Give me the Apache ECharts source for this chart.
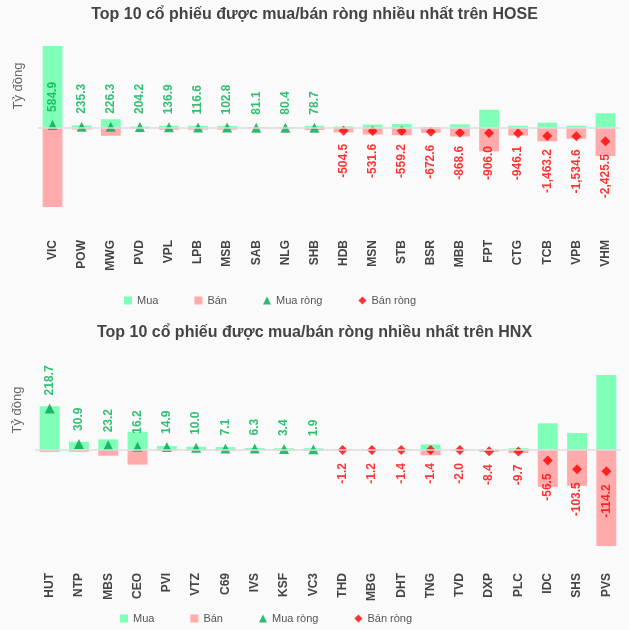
<!DOCTYPE html>
<html>
<head>
<meta charset="utf-8">
<script src="https://cdn.jsdelivr.net/npm/echarts@6/dist/echarts.min.js"></script>
<style>
  html, body { margin: 0; padding: 0; background: #fafafa; }
  #chart { width: 629px; height: 630px; }
</style>
</head>
<body>
<div id="chart"></div>
<script>
// HOSE
let hoseCodes = ['VIC', 'POW', 'MWG', 'PVD', 'VPL', 'LPB', 'MSB', 'SAB', 'NLG', 'SHB',
  'HDB', 'MSN', 'STB', 'BSR', 'MBB', 'FPT', 'CTG', 'TCB', 'VPB', 'VHM']
let hoseBuy = [15200, 500, 1650, 280, 450, 420, 400, 150, 140, 430,
  300, 650, 750, 200, 700, 3400, 450, 1000, 450, 2750]
let hoseSell = [14615.1, 264.7, 1423.7, 75.8, 313.1, 303.4, 297.2, 68.9, 59.6, 351.3,
  804.5, 1181.6, 1309.2, 872.6, 1568.6, 4306.0, 1396.1, 2463.2, 1984.6, 5175.5]
let hoseNet = [584.9, 235.3, 226.3, 204.2, 136.9, 116.6, 102.8, 81.1, 80.4, 78.7,
  -504.5, -531.6, -559.2, -672.6, -868.6, -906.0, -946.1, -1463.2, -1534.6, -2425.5]

// HNX
let hnxCodes = ['HUT', 'NTP', 'MBS', 'CEO', 'PVI', 'VTZ', 'C69', 'IVS', 'KSF', 'VC3',
  'THD', 'MBG', 'DHT', 'TNG', 'TVD', 'DXP', 'PLC', 'IDC', 'SHS', 'PVS']
let hnxBuy = [230, 42, 55, 95, 19.5, 16, 14, 9, 8, 8,
  2, 2, 2, 28, 2, 3, 8, 140, 88, 396]
let hnxSell = [11.3, 11.1, 31.8, 78.8, 4.6, 6.0, 6.9, 2.7, 4.6, 6.1,
  3.2, 3.2, 3.4, 29.4, 4.0, 11.4, 17.7, 196.5, 191.5, 510.2]
let hnxNet = [218.7, 30.9, 23.2, 16.2, 14.9, 10.0, 7.1, 6.3, 3.4, 1.9,
  -1.2, -1.2, -1.4, -1.4, -2.0, -8.4, -9.7, -56.5, -103.5, -114.2]

const BUY = '#80ffb9'
const SELL = '#ffabab'
const UP = '#00a651'
const DOWN = '#ff0000'

function fmt(v) {
  let s = Math.abs(v).toFixed(1)
  let parts = s.split('.')
  parts[0] = parts[0].replace(/\B(?=(\d{3})+(?!\d))/g, ',')
  return (v < 0 ? '-' : '') + parts.join('.')
}

function makeSeries(idx, buy, sell, net) {
  return [
    {
      name: 'Mua', type: 'bar', stack: 'g' + idx,
      xAxisIndex: idx, yAxisIndex: idx,
      barWidth: '68%',
      itemStyle: { color: BUY },
      data: buy,
      markLine: {
        silent: true, symbol: 'none', label: { show: false },
        lineStyle: { color: '#dddddd', type: 'solid', width: 1.5 },
        data: [{ yAxis: 0 }]
      }
    },
    {
      name: 'Bán', type: 'bar', stack: 'g' + idx,
      xAxisIndex: idx, yAxisIndex: idx,
      barWidth: '68%',
      itemStyle: { color: SELL },
      data: sell.map(v => -v)
    },
    {
      name: 'Mua ròng', type: 'scatter', symbol: 'triangle', symbolSize: 10,
      xAxisIndex: idx, yAxisIndex: idx,
      itemStyle: { color: UP },
      label: {
        show: true, position: 'top', rotate: 90, align: 'left', verticalAlign: 'middle',
        distance: 8, color: '#00b050', fontWeight: 'bold', fontSize: 12,
        fontFamily: 'Liberation Sans, Arial',
        formatter: p => fmt(p.value)
      },
      data: net.map(v => v >= 0 ? v : '-')
    },
    {
      name: 'Bán ròng', type: 'scatter', symbol: 'diamond', symbolSize: 10,
      xAxisIndex: idx, yAxisIndex: idx,
      itemStyle: { color: DOWN },
      label: {
        show: true, position: 'bottom', rotate: 90, align: 'right', verticalAlign: 'middle',
        distance: 8, color: DOWN, fontWeight: 'bold', fontSize: 12,
        fontFamily: 'Liberation Sans, Arial',
        formatter: p => fmt(p.value)
      },
      data: net.map(v => v < 0 ? v : '-')
    }
  ]
}

function makeXAxis(idx, codes, margin) {
  return {
    type: 'category', gridIndex: idx, data: codes,
    axisLine: { show: false }, axisTick: { show: false },
    axisLabel: {
      rotate: 90, margin: margin, color: '#444', fontWeight: 'bold', fontSize: 12,
      fontFamily: 'Liberation Sans, Arial', interval: 0
    }
  }
}

function makeYAxis(idx) {
  return {
    type: 'value', gridIndex: idx, show: false,
    min: 'dataMin', max: 'dataMax', splitLine: { show: false }
  }
}

let legendData = [
  { name: 'Mua', icon: 'rect' },
  { name: 'Bán', icon: 'rect' },
  { name: 'Mua ròng', icon: 'triangle' },
  { name: 'Bán ròng', icon: 'diamond' }
]
let legendBase = {
  data: legendData, itemWidth: 8, itemHeight: 8, itemGap: 36,
  textStyle: { color: '#555', fontSize: 11, fontFamily: 'Liberation Sans, Arial' }
}

let chart = echarts.init(document.getElementById('chart'))
let option = {
  backgroundColor: '#fafafa',
  animation: false,
  title: [
    {
      text: 'Top 10 cổ phiếu được mua/bán ròng nhiều nhất trên HOSE',
      left: 'center', top: 2,
      textStyle: { color: '#444', fontSize: 16, fontWeight: 'bold', fontFamily: 'Liberation Sans, Arial' }
    },
    {
      text: 'Top 10 cổ phiếu được mua/bán ròng nhiều nhất trên HNX',
      left: 'center', top: 320,
      textStyle: { color: '#444', fontSize: 16, fontWeight: 'bold', fontFamily: 'Liberation Sans, Arial' }
    }
  ],
  graphic: [
    {
      type: 'text', x: 18, y: 86, rotation: Math.PI / 2,
      style: { text: 'Tỷ đồng', fill: '#666', font: '13px Liberation Sans, Arial', textAlign: 'center', textVerticalAlign: 'middle' }
    },
    {
      type: 'text', x: 17, y: 410, rotation: Math.PI / 2,
      style: { text: 'Tỷ đồng', fill: '#666', font: '13px Liberation Sans, Arial', textAlign: 'center', textVerticalAlign: 'middle' }
    }
  ],
  legend: [
    Object.assign({}, legendBase, { left: 119, top: 290 }),
    Object.assign({}, legendBase, { left: 115, top: 608 })
  ],
  grid: [
    { left: 38, right: 9, top: 46, height: 161 },
    { left: 35, right: 8, top: 375, height: 171 }
  ],
  xAxis: [makeXAxis(0, hoseCodes, 33), makeXAxis(1, hnxCodes, 27)],
  yAxis: [makeYAxis(0), makeYAxis(1)],
  series: makeSeries(0, hoseBuy, hoseSell, hoseNet).concat(makeSeries(1, hnxBuy, hnxSell, hnxNet))
}
chart.setOption(option)
</script>
</body>
</html>
